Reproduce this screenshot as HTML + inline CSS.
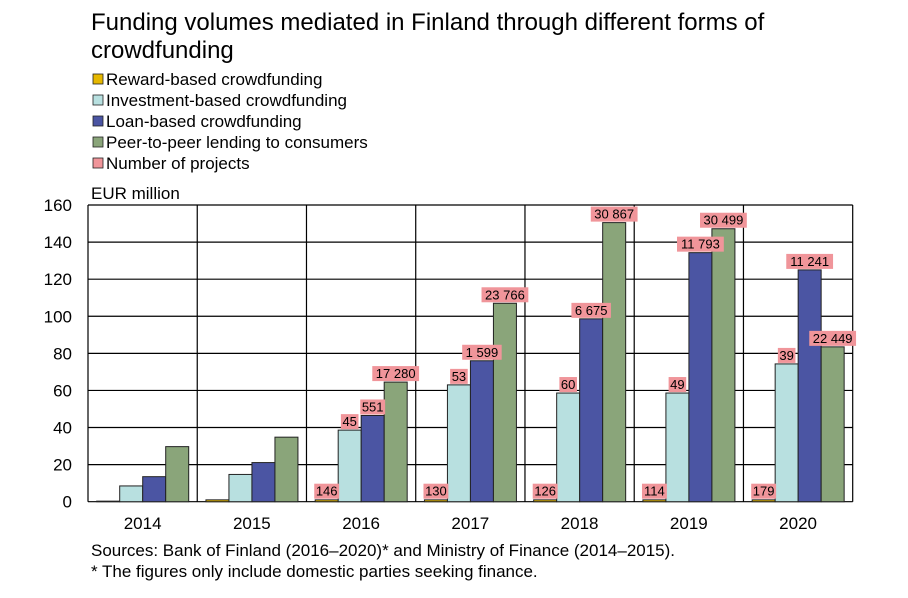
<!DOCTYPE html>
<html><head><meta charset="utf-8"><style>
body{margin:0;background:#fff;font-family:"Liberation Sans",Arial,sans-serif;}
svg text{font-family:"Liberation Sans",Arial,sans-serif;}
</style></head><body>
<svg id="chart" width="908" height="593" viewBox="0 0 908 593" xmlns="http://www.w3.org/2000/svg">
<text x="91" y="30" font-size="24">Funding volumes mediated in Finland through different forms of</text>
<text x="91" y="58" font-size="24">crowdfunding</text>
<g id="legend"></g>
<text x="91" y="199" font-size="17">EUR million</text>
<g id="grid"></g><g id="bars"></g><g id="labels"></g>
<text x="91" y="556" font-size="17">Sources: Bank of Finland (2016–2020)* and Ministry of Finance (2014–2015).</text>
<text x="91" y="577" font-size="17">* The figures only include domestic parties seeking finance.</text>
</svg>
<script>
const categories=["2014","2015","2016","2017","2018","2019","2020"];
const seriesNames=["Reward-based crowdfunding","Investment-based crowdfunding","Loan-based crowdfunding","Peer-to-peer lending to consumers","Number of projects"];
const reward=[0.3,1,1,1,1,1,1];
const investment=[8.5,14.7,38.6,63,58.6,58.6,74.3];
const loan=[13.5,21.1,46.5,76,98.6,134.3,125];
const p2p=[29.7,34.8,64.5,107,150.5,147.2,83.5];
const rewardLabels=[null,null,"146","130","126","114","179"];
const investLabels=[null,null,"45","53","60","49","39"];
const loanLabels=[null,null,"551","1 599","6 675","11 793","11 241"];
const p2pLabels=[null,null,"17 280","23 766","30 867","30 499","22 449"];
const yTicks=[0,20,40,60,80,100,120,140,160];
const colors=["#e6b800","#b8e0e0","#4b55a3","#8aa57a","#f0959a"];
const NS="http://www.w3.org/2000/svg";
const L=88,R=852.7,T=205,B=501.7,yMax=160;
const cw=(R-L)/categories.length;
const y=v=>B-(v/yMax)*(B-T);
const xBar=(i,s)=>L+i*cw+8.7+s*23;
function mk(tag,attrs,parent){const e=document.createElementNS(NS,tag);for(const k in attrs)e.setAttribute(k,attrs[k]);parent.appendChild(e);return e;}
const grid=document.getElementById("grid"),bars=document.getElementById("bars"),labels=document.getElementById("labels"),legend=document.getElementById("legend");
yTicks.forEach(t=>{
 const ln=mk("line",{x1:L,x2:R,y1:y(t),y2:y(t),stroke:"#000","stroke-width":1.2},grid);
 
 
 const tx=mk("text",{x:L-16,y:y(t)+6,"font-size":17,"text-anchor":"end"},grid);
 tx.textContent=t;
 
 
});
for(let i=0;i<=categories.length;i++){
 const ln=mk("line",{x1:L+i*cw,x2:L+i*cw,y1:T,y2:B,stroke:"#000","stroke-width":1.2},grid);
 
 
}
categories.forEach((c,i)=>{
 const tx=mk("text",{x:L+i*cw+cw/2,y:529,"font-size":17,"text-anchor":"middle"},grid);
 tx.textContent=c;
 
 
});
const series=[reward,investment,loan,p2p];
const labs=[rewardLabels,investLabels,loanLabels,p2pLabels];
series.forEach((arr,s)=>{
 arr.forEach((v,i)=>{
  const x=xBar(i,s);
  const r=mk("rect",{x:x,y:y(v),width:23,height:B-y(v),fill:colors[s],stroke:"#222","stroke-width":1},bars);
  
  
  const lb=labs[s][i];
  if(lb){
   const w=lb.length*7.3+3;
   const cx=x+11.5;
   const by=(s===0?B-3:y(v)-1);
   const bg=mk("rect",{x:cx-w/2,y:by-15,width:w,height:15,fill:colors[4]},labels);
   
   
   const t=mk("text",{x:cx,y:by-3,"font-size":13,"text-anchor":"middle"},labels);
   t.textContent=lb;
   
   
  }
 });
});
seriesNames.forEach((n,k)=>{
 const yy=80+k*21;
 const sw=mk("rect",{x:93,y:yy-6,width:10,height:10,fill:colors[k],stroke:"#222","stroke-width":0.8},legend);
 
 
 const t=mk("text",{x:106,y:yy+5,"font-size":17},legend);
 t.textContent=n;
 
 
});
</script>
</body></html>
